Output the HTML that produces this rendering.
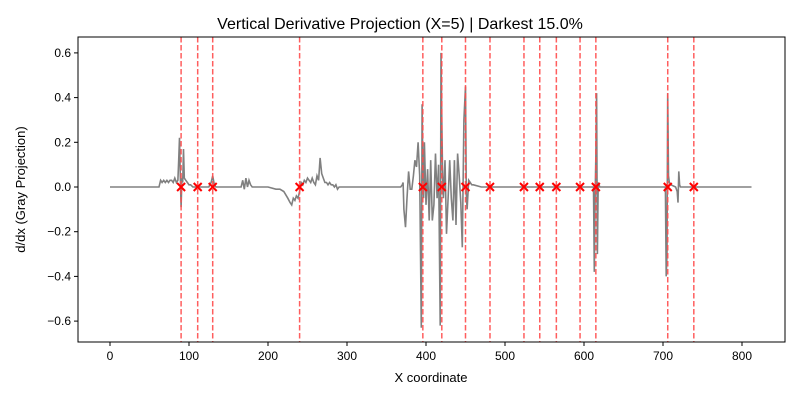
<!DOCTYPE html>
<html><head><meta charset="utf-8"><style>
body{margin:0;background:#fff;font-family:"Liberation Sans","DejaVu Sans",sans-serif}
</style></head><body>
<svg id="chart" width="800" height="400" xmlns="http://www.w3.org/2000/svg"></svg>
<script>
const xs=[0,62,64,66,68,70,72,74,76,78,80,82,84,86,87,88,89,90,91,92,93,94,96,98,100,102,105,110,
125,128,130,132,134,150,166,168,170,172,174,176,178,180,182,184,
200,210,215,220,225,228,230,232,234,236,238,240,242,244,246,248,250,252,254,256,258,260,262,264,266,268,270,272,274,276,278,280,282,284,286,288,290,295,300,330,
368,370,371,372,374,376,378,380,382,384,386,388,390,392,394,395,396,397,398,400,402,404,406,408,410,412,414,416,418,419,420,421,422,424,426,428,430,432,434,436,438,440,442,444,446,448,450,451,452,454,456,458,460,470,480,490,500,
610,612,613,614,615,616,617,618,620,630,
700,702,703,704,705,706,707,708,710,716,718,719,720,721,722,723,726,812];
const ys=[0,0,0.03,0.02,0.03,0.02,0.03,0.02,0.03,0.03,0.02,0.04,0.02,0.03,0.12,0.22,0.05,-0.09,0.04,0.02,0.17,0.04,0.03,0.02,0.01,0.01,0,0,
0,0.02,0.05,0.01,0,0,0,0.03,-0.01,0.04,0,0.03,0.01,0,0,0,
0,-0.01,-0.01,-0.02,-0.05,-0.07,-0.08,-0.05,-0.06,-0.04,-0.05,-0.02,0.02,0.01,0.03,0.02,0.04,0.03,0.02,0.04,0.02,0.01,0.05,0.03,0.13,0.06,0.04,0.02,0.02,0.01,0.02,0.01,0.01,0,0.01,-0.01,0,0,0,0,
0,0.01,0.02,-0.1,-0.18,-0.05,0.07,-0.01,-0.01,0.05,0.12,0.09,0.2,0.05,-0.63,0.37,0.1,-0.05,0.2,-0.08,0.08,-0.15,0.12,-0.15,-0.08,0.15,-0.05,0.1,-0.62,0.6,0.3,0.05,-0.05,0.12,-0.21,-0.05,0.12,-0.05,-0.15,0.12,-0.17,0.15,0.05,-0.07,-0.27,0.3,0.45,-0.03,-0.1,0.03,0.02,0.01,0.01,0,0,0,0,
0,0,-0.38,-0.05,0.15,0.42,-0.3,0.02,0,0,
0,0,0,-0.4,-0.3,0.42,0.05,0.02,0.01,0,-0.02,-0.07,0.07,0.01,0,0,0,0];
const marks=[90,111,130,240,396,420,450,481,524,544,565,595,615,706,739];
const xTicks=[0,100,200,300,400,500,600,700,800];
const yTicks=[-0.6,-0.4,-0.2,0.0,0.2,0.4,0.6];
const L=78,R=785,T=37,B=342;
const sx=v=>110+v*0.79, sy=v=>187-v*223.5;
const svg=document.getElementById('chart');
const NS='http://www.w3.org/2000/svg';
function mk(t,a){const e=document.createElementNS(NS,t);for(const k in a)e.setAttribute(k,a[k]);svg.appendChild(e);return e;}
let t=mk('text',{x:400,y:29,'text-anchor':'middle','font-size':16,fill:'#000'});t.textContent='Vertical Derivative Projection (X=5) | Darkest 15.0%';


const n=Math.min(xs.length,ys.length);
let d='';for(let i=0;i<n;i++){d+=(i?'L':'M')+sx(xs[i]).toFixed(1)+','+sy(ys[i]).toFixed(1);}
let p=mk('path',{d:d,fill:'none',stroke:'#808080','stroke-width':1.6});


marks.forEach(m=>{
 let l=mk('line',{x1:sx(m),x2:sx(m),y1:T,y2:B,stroke:'#ff4d4d','stroke-width':1.5,'stroke-dasharray':'5.5,2.5','opacity':0.9});
 
 
});
marks.forEach(m=>{
 const cx=sx(m),cy=sy(0),s=4;
 let g=mk('path',{d:`M${cx-s},${cy-s}L${cx+s},${cy+s}M${cx-s},${cy+s}L${cx+s},${cy-s}`,stroke:'#ff0000','stroke-width':2});
 
 
});
let f=mk('rect',{x:L,y:T,width:R-L,height:B-T,fill:'none',stroke:'#000','stroke-width':1});


xTicks.forEach(v=>{
 mk('line',{x1:sx(v),x2:sx(v),y1:B,y2:B+4,stroke:'#000'});
 let e=mk('text',{x:sx(v),y:B+18,'text-anchor':'middle','font-size':12});e.textContent=v;
 
 
});
yTicks.forEach(v=>{
 mk('line',{x1:L-4,x2:L,y1:sy(v),y2:sy(v),stroke:'#000'});
 let e=mk('text',{x:L-7,y:sy(v)+4,'text-anchor':'end','font-size':12});e.textContent=(v<0?'\u2212':'')+Math.abs(v).toFixed(1);
 
 
});
let xl=mk('text',{x:431,y:382,'text-anchor':'middle','font-size':13});xl.textContent='X coordinate';


let yl=mk('text',{x:0,y:0,'text-anchor':'middle','font-size':13,transform:`translate(25,${(T+B)/2}) rotate(-90)`});yl.textContent='d/dx (Gray Projection)';


</script>
</body></html>
